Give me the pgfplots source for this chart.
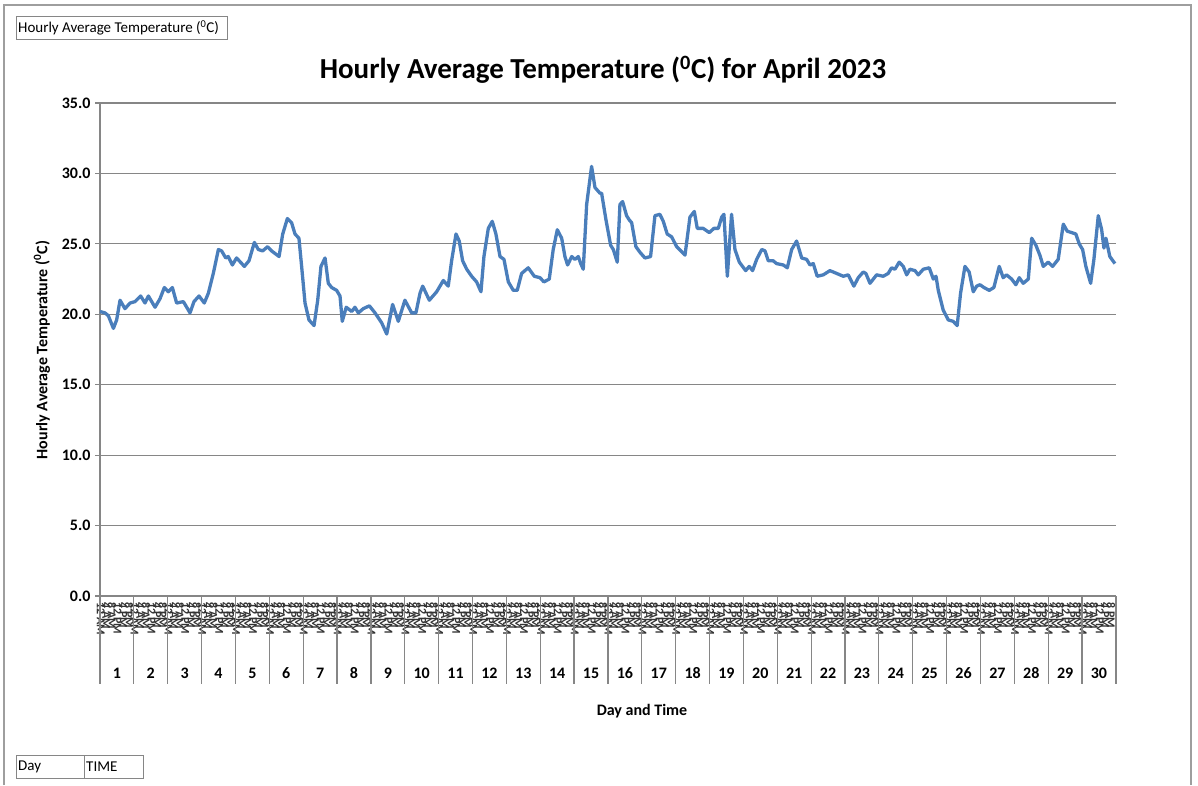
\documentclass[border=0pt]{standalone}
\usepackage{fontspec}
\setmainfont{Carlito}
\usepackage{pgfplots}
\pgfplotsset{compat=1.18}
\definecolor{xlblue}{HTML}{4A7EBB}
\definecolor{xlgrid}{HTML}{868686}
\newcommand{\fs}[1]{\fontsize{#1}{#1}\selectfont}

% hour labels, six per day, for the 30 days
\def\hrlabels{}
\foreach \d in {1,...,30}{\xdef\hrlabels{\hrlabels 12 AM,4 AM,8 AM,12 PM,4 PM,8 PM,}}

\begin{document}
\begin{tikzpicture}
\path[use as bounding box] (0pt,0pt) rectangle (1198pt,-785pt);
\draw[xlgrid!80, line width=1.2pt] (4pt,-785pt) -- (4pt,-5pt) -- (1191pt,-5pt) -- (1191pt,-785pt);

% field buttons
\draw[xlgrid, line width=0.9pt] (16pt,-16pt) rectangle (227pt,-39pt);
\node[anchor=west, inner sep=0pt, font=\fs{15}] at (18pt,-27.5pt) {Hourly Average Temperature (\textsuperscript{0}C)};
\draw[xlgrid, line width=0.9pt] (16pt,-755pt) rectangle (143pt,-778pt);
\draw[xlgrid, line width=0.9pt] (84pt,-755pt) -- (84pt,-778pt);
\node[anchor=west, inner sep=0pt, font=\fs{15}] at (18pt,-767pt) {Day};
\node[anchor=west, inner sep=0pt, font=\fs{15}] at (86pt,-767pt) {TIME};

\node[font=\bfseries\fs{29}] at (603pt,-70pt) {Hourly Average Temperature (\textsuperscript{0}C) for April 2023};

\begin{axis}[
  at={(100pt,-596pt)}, anchor=south west,
  scale only axis, width=1016pt, height=493pt,
  xmin=0, xmax=720, ymin=0, ymax=35,
  axis lines*=left,
  axis line style={draw=xlgrid, line width=1.2pt},
  ytick={0,5,...,35},
  ymajorgrids, grid style={draw=xlgrid, line width=1.2pt},
  tick align=outside,
  ytick style={draw=xlgrid, line width=1.2pt},
  major tick length=5pt,
  xtick style={draw=none},
  yticklabel style={font=\bfseries\fs{16}, xshift=-1pt},
  /pgf/number format/.cd, fixed, fixed zerofill, precision=1, assume math mode=true,
  /pgfplots/.cd,
  xtick={0.5,4.5,...,716.5},
  xticklabels/.expand once=\hrlabels,
  xticklabel style={rotate=-90, anchor=west, font=\bfseries\fs{12}, inner sep=1pt, text=black!80},
  clip=false,
]
\addplot[xlblue, line width=3.3pt, line join=round, mark=none] coordinates {
(0,20.2)(3.5,20.1)(5.9,19.9)(9.5,19.0)(11.8,19.6)(14.2,21.0)(17.7,20.4)(21.3,20.8)(24.8,20.9)(28.8,21.3)
(31.9,20.8)(34.3,21.3)(39,20.5)(42.5,21.1)(45.6,21.9)(48.4,21.6)(51.3,21.9)(54.3,20.8)(59.1,20.9)(63.8,20.1)
(66.6,20.9)(70.2,21.3)(73.9,20.8)(76.8,21.5)(80.3,22.9)(83.9,24.6)(86.2,24.5)(89.1,24.0)(90.9,24.1)(93.8,23.5)
(96.8,24.0)(102.3,23.4)(105.6,23.8)(109.4,25.1)(112.2,24.6)(115.3,24.5)(118.8,24.8)(121.6,24.5)(126.9,24.1)(129.5,25.7)
(132.8,26.8)(135.8,26.5)(138.2,25.7)(141,25.4)(142.9,23.4)(145.3,20.8)(148.1,19.6)(151.7,19.2)(154.3,21.0)(156.6,23.4)
(159.5,24.0)(161.8,22.2)(164.2,21.9)(167.7,21.7)(170.1,21.3)(171.7,19.5)(174.5,20.5)(178.4,20.2)(180.7,20.5)(183.1,20.1)
(186.6,20.4)(190.9,20.6)(194.9,20.1)(199.6,19.4)(203.2,18.6)(207.4,20.7)(211.4,19.5)(216.1,21.0)(220.9,20.1)(223.9,20.1)
(226.8,21.5)(228.7,22.0)(233.4,21.0)(238.6,21.6)(243.3,22.4)(246.8,22.0)(249.2,23.8)(252.3,25.7)(254.6,25.2)(257,23.8)
(259.9,23.2)(263.4,22.7)(266.9,22.3)(270,21.6)(272.1,24.1)(275.2,26.1)(278,26.6)(280.6,25.7)(283.5,24.1)(286.3,23.9)
(289.4,22.3)(292.9,21.7)(295.7,21.7)(298.8,22.9)(303.5,23.3)(307.8,22.7)(311.8,22.6)(314.6,22.3)(318.4,22.5)(321.2,24.6)
(324.1,26.0)(327.2,25.4)(329.5,24.1)(331.4,23.5)(334.3,24.1)(336.6,23.9)(339,24.1)(340.7,23.6)(342.5,23.2)(344.9,27.8)
(348.4,30.5)(350.8,29.0)(354.3,28.6)(355.5,28.6)(358.6,26.7)(361.9,24.9)(363.8,24.6)(366.6,23.7)(368.5,27.8)(370.4,28.0)
(373.2,27.0)(375.1,26.7)(376.8,26.5)(379.8,24.8)(382.7,24.4)(386.2,24.0)(390.2,24.1)(393.3,27.0)(396.8,27.1)(399.2,26.6)
(402,25.7)(405.1,25.5)(408.7,24.8)(414.6,24.2)(418.1,26.9)(421.2,27.3)(423.3,26.1)(427.5,26.1)(431.8,25.8)(435.1,26.1)
(438.2,26.1)(440.6,26.9)(442.2,27.1)(444.6,22.7)(447.6,27.1)(450,24.6)(453.1,23.7)(457.6,23.1)(460.1,23.4)(462.5,23.1)
(465.4,23.9)(469,24.6)(471.3,24.5)(473.6,23.8)(477.1,23.8)(479.5,23.6)(484.3,23.5)(487.1,23.3)(490.2,24.6)(493.7,25.2)
(497.3,24.0)(500.8,23.9)(503.2,23.5)(505.5,23.6)(508.3,22.7)(512.6,22.8)(517.3,23.1)(522.1,22.9)(526.8,22.7)(530.3,22.8)
(534.3,22.0)(537.4,22.6)(540.9,23.0)(542.8,22.9)(545.7,22.2)(550.4,22.8)(555.1,22.7)(558.6,22.9)(561,23.3)(563.4,23.2)
(566.4,23.7)(569.3,23.4)(571.7,22.8)(574,23.2)(577.6,23.1)(579.9,22.8)(583.5,23.2)(587.7,23.3)(590.6,22.5)(592.5,22.7)
(594.1,21.7)(597.6,20.3)(601.2,19.6)(604.7,19.5)(607.5,19.2)(609.9,21.5)(613,23.4)(616,23.0)(618.9,21.6)(621.3,22.0)
(623.6,22.1)(626.5,21.9)(630.2,21.7)(633.5,21.9)(637.3,23.4)(640.1,22.6)(642.5,22.8)(646.1,22.5)(649.1,22.1)(651.5,22.6)
(654.3,22.2)(657.9,22.5)(660.3,25.4)(663.3,24.9)(666.1,24.2)(668.5,23.4)(672,23.7)(675.1,23.4)(679.1,23.9)(682.7,26.4)
(685.5,25.9)(688.6,25.8)(691.6,25.7)(694,25.0)(696.4,24.6)(698.7,23.4)(702.1,22.2)(704.4,23.9)(707.5,27.0)(709.9,26.0)
(711.5,24.7)(712.9,25.4)(715.7,24.1)(719.3,23.6)
};
% day separators and day numbers
\pgfplotsinvokeforeach{0,...,30}{
  \draw[xlgrid, line width=1.2pt] (axis cs:{24*#1},0) -- ++(0pt,-88pt);
}
\pgfplotsinvokeforeach{1,...,30}{
  \node[font=\bfseries\fs{16}] at (axis cs:{24*#1-12},0) [yshift=-77pt] {#1};
}
\end{axis}

\node[font=\bfseries\fs{16}] at (642pt,-711pt) {Day and Time};
\node[font=\bfseries\fs{16}, rotate=90] at (42pt,-350pt) {Hourly Average Temperature (\textsuperscript{0}C)};
\end{tikzpicture}
\end{document}
